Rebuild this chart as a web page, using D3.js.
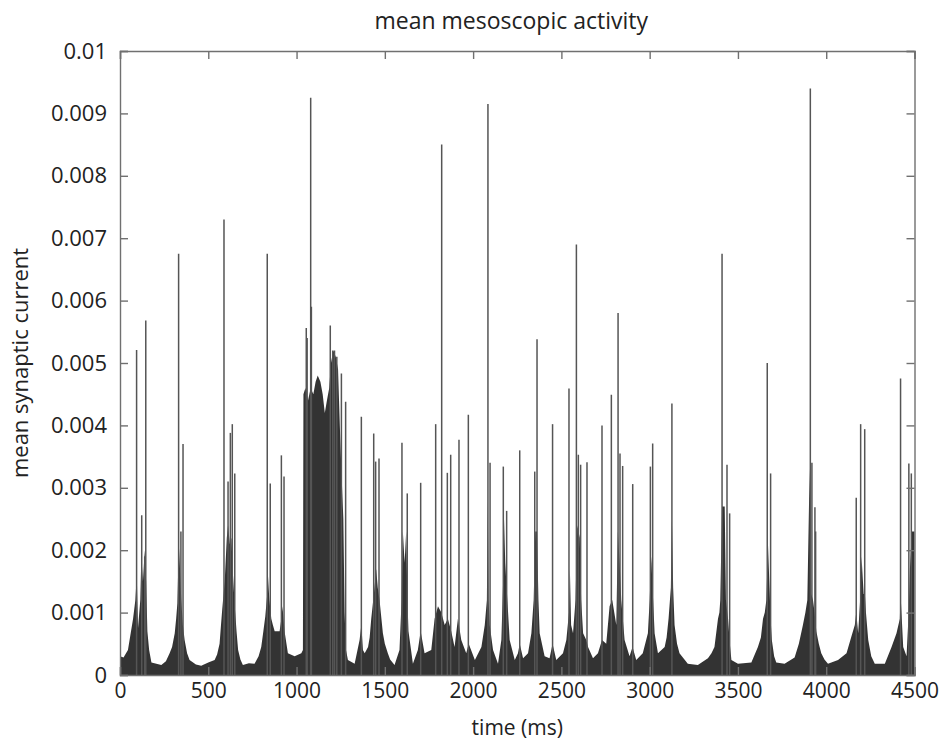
<!DOCTYPE html>
<html>
  <head>
    <meta http-equiv="content-type" content="text/html; charset=utf-8" />
    <title>mean mesoscopic activity</title>
    <script type="text/javascript" src="https://cdn.jsdelivr.net/npm/d3@7"></script>
    <style type="text/css">
      body { margin: 0; background: #fff; }
      text { font-family: "Open Sans", "DejaVu Sans", sans-serif; fill: #222; }
    </style>
  </head>
  <body>
    <script type="text/javascript">
// tick values of both axes
var xTicks = [0, 500, 1000, 1500, 2000, 2500, 3000, 3500, 4000, 4500];
var xTickLabels = ["0", "500", "1000", "1500", "2000", "2500", "3000", "3500", "4000", "4500"];
var yTicks = [0, 0.001, 0.002, 0.003, 0.004, 0.005, 0.006, 0.007, 0.008, 0.009, 0.01];
var yTickLabels = ["0", "0.001", "0.002", "0.003", "0.004", "0.005", "0.006", "0.007", "0.008", "0.009", "0.01"];

// thin spikes (time in ms, peak value)
var spikeTime = [94, 123, 140, 146, 332, 345, 357, 589, 612, 625, 636, 650, 834, 851, 914, 929,
  1055, 1060, 1080, 1084, 1191, 1205, 1215, 1228, 1254, 1278,
  1367, 1437, 1448, 1467, 1597, 1627, 1703, 1788, 1822, 1854, 1873, 1920, 1973,
  2084, 2096, 2171, 2190, 2264, 2349, 2362, 2450, 2543, 2585, 2596, 2609, 2645,
  2730, 2783, 2821, 2832, 2847, 2904, 3004, 3017, 3126,
  3410, 3438, 3453, 3666, 3685, 3910, 3919, 3936, 3940, 4170, 4195, 4218, 4421, 4468, 4482];
var spikeLevel = [0.00521, 0.00256, 0.0019, 0.00568, 0.00675, 0.0023, 0.0037, 0.0073, 0.0031, 0.00388, 0.00402, 0.00323, 0.00675, 0.00307, 0.00352, 0.00318,
  0.00556, 0.0054, 0.00925, 0.0059, 0.0056, 0.0052, 0.0052, 0.0051, 0.00483, 0.00438,
  0.00414, 0.00387, 0.00342, 0.00347, 0.00372, 0.00291, 0.00308, 0.00402, 0.0085, 0.00324, 0.00353, 0.00377, 0.00417,
  0.00915, 0.0034, 0.00334, 0.00263, 0.0036, 0.00326, 0.00538, 0.00402, 0.00459, 0.0069, 0.00353, 0.00337, 0.00341,
  0.0040, 0.00449, 0.0058, 0.00355, 0.00335, 0.00306, 0.00334, 0.00371, 0.00435,
  0.00675, 0.00337, 0.00259, 0.0050, 0.00323, 0.0094, 0.0034, 0.00269, 0.0023, 0.00284, 0.00402, 0.00394, 0.00475, 0.00339, 0.00323];

// upper edge of the dense dark band [time, value]
var envelope = [
  [0, 0.0003], [20, 0.00028], [45, 0.0004], [74, 0.0009], [87, 0.0012], [95, 0.0016], [102, 0.00075],
  [115, 0.0012], [121, 0.0019], [130, 0.0015], [140, 0.002], [148, 0.0015], [155, 0.0007], [165, 0.0004],
  [178, 0.0002], [234, 0.00016], [260, 0.00022], [281, 0.00035], [295, 0.00045], [310, 0.00067],
  [318, 0.0009], [325, 0.00115], [333, 0.0021], [340, 0.0017], [347, 0.0012], [356, 0.0008],
  [366, 0.00056], [380, 0.00035], [394, 0.00024], [430, 0.00017], [460, 0.00015], [500, 0.0002],
  [536, 0.00024], [550, 0.00033], [564, 0.0005], [572, 0.0008], [579, 0.00105], [593, 0.0015],
  [605, 0.0022], [612, 0.0024], [622, 0.0021], [631, 0.0022], [640, 0.0016], [650, 0.0011],
  [660, 0.0007], [669, 0.0004], [682, 0.00025], [696, 0.00016], [730, 0.00019], [762, 0.00018],
  [785, 0.0003], [800, 0.00045], [812, 0.0007], [823, 0.00094], [834, 0.0013], [838, 0.0016],
  [846, 0.0012], [857, 0.0009], [866, 0.0008], [876, 0.0007], [904, 0.0007], [914, 0.0009],
  [920, 0.0011], [932, 0.0007], [951, 0.00035], [989, 0.0003], [1027, 0.00035],
  [1036, 0.0004], [1039, 0.0045], [1050, 0.0046], [1065, 0.0044], [1080, 0.0046], [1095, 0.0045],
  [1108, 0.0047], [1120, 0.0048], [1135, 0.0047], [1148, 0.0045], [1160, 0.0042], [1172, 0.0044],
  [1185, 0.0046], [1195, 0.005], [1208, 0.0052], [1222, 0.0051], [1235, 0.0049], [1245, 0.004],
  [1255, 0.0032], [1265, 0.0025], [1272, 0.001], [1280, 0.0004], [1291, 0.00024], [1329, 0.00018],
  [1357, 0.00056], [1367, 0.0008], [1376, 0.0004], [1386, 0.00035], [1405, 0.00045], [1414, 0.0006],
  [1423, 0.0009], [1438, 0.0013], [1451, 0.0017], [1460, 0.0014], [1470, 0.0012], [1489, 0.00067],
  [1500, 0.0005], [1517, 0.00035], [1530, 0.00025],
  [1555, 0.00016], [1583, 0.0004], [1595, 0.0012], [1602, 0.0023], [1612, 0.0018], [1621, 0.0023],
  [1628, 0.0012], [1634, 0.0007], [1659, 0.00018], [1687, 0.0004], [1703, 0.0007], [1725, 0.00035],
  [1763, 0.0004], [1782, 0.0009], [1801, 0.0011], [1820, 0.001], [1839, 0.0008], [1857, 0.0009],
  [1876, 0.0007], [1895, 0.00045], [1914, 0.0009], [1933, 0.00056], [1961, 0.00035], [1975, 0.0005],
  [2010, 0.00024], [2047, 0.00045], [2066, 0.0008], [2078, 0.0012], [2083, 0.0028], [2088, 0.0012],
  [2094, 0.0008], [2113, 0.0004], [2141, 0.00018], [2160, 0.00056], [2170, 0.0015], [2175, 0.0025],
  [2182, 0.0018], [2188, 0.0015], [2207, 0.00056], [2236, 0.00024], [2254, 0.00035], [2264, 0.0005],
  [2283, 0.00027], [2311, 0.00035], [2330, 0.00067], [2343, 0.0012], [2352, 0.0023], [2362, 0.0023],
  [2370, 0.0012], [2377, 0.00067], [2405, 0.0003], [2433, 0.00027], [2450, 0.0005], [2471, 0.00024],
  [2509, 0.00035], [2528, 0.00056], [2543, 0.001], [2548, 0.0017], [2555, 0.0008], [2566, 0.00067],
  [2580, 0.0012], [2590, 0.0024], [2604, 0.0022], [2612, 0.0012], [2623, 0.00067], [2641, 0.00056],
  [2651, 0.00045], [2679, 0.00027], [2707, 0.00035], [2730, 0.00056], [2754, 0.0005], [2773, 0.0011],
  [2788, 0.0012], [2811, 0.0008], [2820, 0.0023], [2830, 0.0018], [2839, 0.0012], [2858, 0.00056],
  [2886, 0.0003], [2903, 0.00045], [2924, 0.00024], [2961, 0.00035], [2990, 0.00067], [3000, 0.0012],
  [3009, 0.0019], [3018, 0.0013], [3028, 0.00067], [3047, 0.00035], [3085, 0.00045], [3096, 0.0006],
  [3107, 0.0009], [3120, 0.0014], [3126, 0.0025], [3133, 0.0014], [3141, 0.0008], [3155, 0.0005],
  [3169, 0.00035], [3216, 0.00018], [3273, 0.00016], [3330, 0.00027], [3350, 0.00035], [3367, 0.00045],
  [3387, 0.0009], [3395, 0.001], [3400, 0.0012], [3410, 0.0027], [3425, 0.0027], [3432, 0.0012],
  [3444, 0.0009], [3454, 0.0005], [3463, 0.00024], [3500, 0.00018], [3576, 0.0002],
  [3613, 0.00045], [3630, 0.0006], [3642, 0.0009], [3652, 0.001], [3661, 0.0012], [3670, 0.0021],
  [3679, 0.0014], [3685, 0.0009], [3692, 0.00056], [3705, 0.0003], [3717, 0.0002], [3764, 0.00018],
  [3821, 0.00028], [3845, 0.0005], [3868, 0.0008], [3882, 0.001], [3893, 0.0012], [3906, 0.0033],
  [3915, 0.0013], [3925, 0.0012], [3934, 0.001], [3944, 0.0007], [3958, 0.0005], [3972, 0.00035],
  [3990, 0.00025], [4010, 0.00018], [4067, 0.00024],
  [4115, 0.00035], [4143, 0.00062], [4162, 0.0008], [4170, 0.001], [4181, 0.00067], [4192, 0.0012],
  [4200, 0.0019], [4212, 0.0013], [4219, 0.0013], [4225, 0.001], [4238, 0.00056], [4255, 0.0003],
  [4275, 0.00018], [4332, 0.00018],
  [4370, 0.00045], [4398, 0.00067], [4417, 0.0009], [4421, 0.0013], [4428, 0.0009], [4436, 0.00045],
  [4455, 0.0003], [4467, 0.001], [4474, 0.0017], [4485, 0.0023], [4493, 0.0023], [4500, 0.0023]
];

(function() {
  var W = 940, H = 743,
      mLeft = 120, mTop = 51, mRight = 914.5, mBottom = 675,
      tickLen = 8;

  var svg = d3.select("body").append("svg")
    .attr("width", W)
    .attr("height", H);

  var x = d3.scaleLinear().domain([0, 4500]).range([mLeft, mRight]);
  var y = d3.scaleLinear().domain([0, 0.01]).range([mBottom, mTop]);

  var plot = svg.append("g");

  // dense band
  var area = d3.area()
    .x(function(d) { return x(d[0]); })
    .y0(y(0))
    .y1(function(d) { return y(d[1]); });

  plot.append("path")
    .datum(envelope)
    .attr("d", area)
    .attr("fill", "#333");

  // spikes
  plot.selectAll("line.spike")
    .data(spikeTime)
    .enter()
    .append("line")
      .attr("class", "spike")
      .attr("x1", function(d) { return x(d); })
      .attr("x2", function(d) { return x(d); })
      .attr("y1", y(0))
      .attr("y2", function(d, i) { return y(spikeLevel[i]); })
      .attr("stroke", "#555")
      .attr("stroke-width", 1.5);

  // axes (ticks point inward, box on all sides)
  var axisColor = "#707070";

  var xb = svg.append("g")
    .attr("transform", "translate(0," + mBottom + ")")
    .call(d3.axisBottom(x).tickValues(xTicks).tickSize(-tickLen).tickPadding(8)
      .tickFormat(function(d, i) { return xTickLabels[i]; }));
  var xt = svg.append("g")
    .attr("transform", "translate(0," + mTop + ")")
    .call(d3.axisTop(x).tickValues(xTicks).tickSize(-tickLen).tickFormat(""));
  var yl = svg.append("g")
    .attr("transform", "translate(" + mLeft + ",0)")
    .call(d3.axisLeft(y).tickValues(yTicks).tickSize(-tickLen).tickPadding(13)
      .tickFormat(function(d, i) { return yTickLabels[i]; }));
  var yr = svg.append("g")
    .attr("transform", "translate(" + mRight + ",0)")
    .call(d3.axisRight(y).tickValues(yTicks).tickSize(-tickLen).tickFormat(""));

  [xb, xt, yl, yr].forEach(function(g) {
    g.select(".domain").attr("stroke", axisColor).attr("stroke-width", 1.4);
    g.selectAll(".tick line").attr("stroke", axisColor).attr("stroke-width", 1.4);
    g.selectAll(".tick text")
      .attr("fill", "#222")
      .style("font-family", "'Open Sans', sans-serif")
      .style("font-size", "22px");
  });
  xb.selectAll(".tick text").style("font-size", "21px");

  // titles
  svg.append("text")
    .attr("x", (mLeft + mRight) / 2 - 6)
    .attr("y", 29)
    .attr("text-anchor", "middle")
    .style("font-size", "23px")
    .text("mean mesoscopic activity");

  svg.append("text")
    .attr("x", (mLeft + mRight) / 2)
    .attr("y", 735)
    .attr("text-anchor", "middle")
    .style("font-size", "21px")
    .text("time (ms)");

  svg.append("text")
    .attr("transform", "translate(28," + ((mTop + mBottom) / 2) + ") rotate(-90)")
    .attr("text-anchor", "middle")
    .style("font-size", "22px")
    .text("mean synaptic current");
})();
    </script>
  </body>
</html>
